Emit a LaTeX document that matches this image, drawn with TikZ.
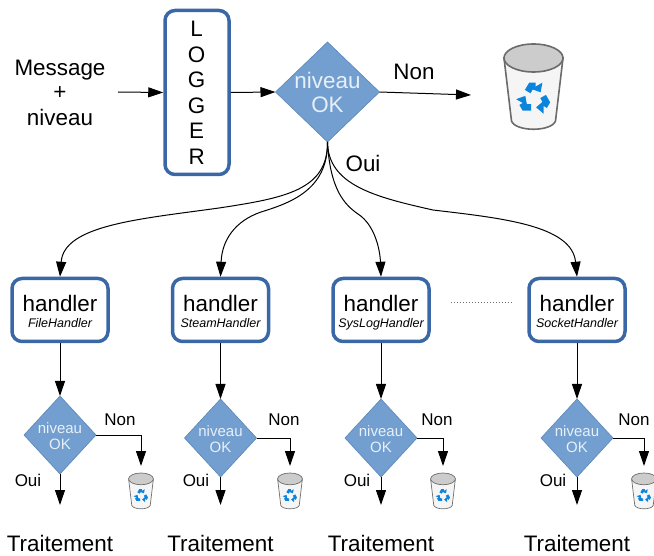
\documentclass[tikz,border=0pt]{standalone}
\usepackage{fontspec}
\setmainfont{Liberation Sans}
\usetikzlibrary{arrows.meta,shapes.geometric}
\definecolor{boxblue}{HTML}{3A68A6}
\definecolor{diafill}{HTML}{729FCF}
\definecolor{diaedge}{HTML}{5C87B8}
\definecolor{diatext}{HTML}{E8EFF8}
\definecolor{recy}{HTML}{0A84DC}
\tikzset{
  arw/.style={-{Triangle[length=15pt,width=10pt]},line width=1pt,black},
  bigbox/.style={draw=boxblue,line width=3.5pt,fill=white,rounded corners=10pt,inner sep=0pt},
  dia/.style={shape=diamond,draw=diaedge,line width=.6pt,fill=diafill,inner sep=0pt,outer sep=0pt},
  lab/.style={anchor=base,inner sep=0pt},
  big/.style={lab,font=\fontsize{22.4}{26}\selectfont},
  mid/.style={lab,font=\fontsize{17}{20}\selectfont},
  ital/.style={lab,font=\fontsize{12.5}{15}\selectfont\itshape},
  sdia/.style={lab,text=diatext,font=\fontsize{15}{18}\selectfont},
  bdia/.style={lab,text=diatext,font=\fontsize{22.4}{26}\selectfont},
}
% #1 x, #2 y of lid top, #3 scale
\newcommand{\trashbin}[3]{%
  \begin{scope}[shift={(#1,#2)},scale=#3]
    \path[fill=black!4,draw=black!58,line width=#3*1.6pt]
      (-29.5,14) -- (-22,77) .. controls (-18,88) and (18,88) .. (22,77) -- (29.5,14) -- cycle;
    \path[fill=black!20,draw=black!58,line width=#3*1.6pt]
      (0,14) ellipse [x radius=29.5,y radius=14];
    \foreach \r in {0,120,240}{
      \begin{scope}[shift={(0.5,54.5)},rotate=\r,scale=1.15]
        \draw[recy,line width=#3*6.5pt,line join=miter] (-5.5,-6) -- (-2.5,-11) -- (1.5,-11);
        \fill[recy] (7.26,-13.75) -- (-2.26,-8.25) -- (5.75,-5.4) -- cycle;
      \end{scope}
    }
  \end{scope}}
% #1 id, #2 box x, #3 diamond y, #4 bin x, #5 text, #6 Oui x, #7 Non x
\newcommand{\handlerstack}[7]{%
  \node[bigbox,minimum width=96pt,minimum height=63pt] (h#1) at (#2,310) {};
  \node[big] (ht#1) at (#2,311.4) {handler};
  \node[ital] (hs#1) at (#2,327.3) {#5};
  \node[dia,minimum width=72pt,minimum height=78pt] (d#1) at (#2,#3) {};
  \node[sdia] (dn#1) at (#2,#3-2) {niveau};
  \node[sdia] (dk#1) at (#2,#3+14.5) {OK};
  \trashbin{#4}{473}{0.42}
  \coordinate (b#1) at (#4,466);
  \coordinate (e#1) at (#2,505);
  \draw[arw] (h#1.south) -- (d#1.north);
  \draw[arw] (d#1.south) -- (e#1);
  \draw[arw] (d#1.east) -| (b#1);
  \node[mid] (oui#1) at (#6,486) {Oui};
  \node[mid] (non#1) at (#7,425) {Non};
  \node[big] (tr#1) at (#2,551.5) {Traitement};
}
\begin{document}
\begin{tikzpicture}[x=1pt,y=-1pt]
\useasboundingbox (0,0) rectangle (654,556);
\fill[white] (0,0) rectangle (654,556);
% top row
\node[big] (m1) at (60,76) {Message};
\node[big] (m2) at (60,99.5) {+};
\node[big] (m3) at (60,125.5) {niveau};
\coordinate (ms) at (118,92);
\node[bigbox,minimum width=64pt,minimum height=164pt] (log) at (197,92.5) {};
\node[big] (l1) at (196.7,37) {L};
\node[big] (l2) at (196.7,62.5) {O};
\node[big] (l3) at (196.7,88) {G};
\node[big] (l4) at (196.7,113.5) {G};
\node[big] (l5) at (196.7,138.8) {E};
\node[big] (l6) at (196.7,164.5) {R};
\node[dia,minimum width=104pt,minimum height=100pt] (dm) at (327.5,92) {};
\node[bdia] (dmn) at (327.5,88.5) {niveau};
\node[bdia] (dmk) at (327.5,112.7) {OK};
\coordinate (nt) at (471,95);
\draw[arw] (ms) -- (log.west);
\draw[arw] (log.east) -- (dm.west);
\draw[arw] (dm.east) -- (nt);
\node[big] (nonm) at (414,80) {Non};
\node[big] (ouim) at (363,172) {Oui};
\trashbin{533.5}{44}{1}
% handlers
\handlerstack{1}{60}{435}{141}{FileHandler}{28}{120}
\handlerstack{2}{220.5}{438}{290}{SteamHandler}{196}{284}
\handlerstack{3}{381}{438}{443}{SysLogHandler}{357}{437}
\handlerstack{4}{577}{438}{644}{SocketHandler}{553}{634}
\draw[arw] (dm.south) .. controls (328,190) and (285,198) .. (219,208) .. controls (140,219) and (64,225) .. (h1.north);
\draw[arw] (dm.south) .. controls (328,190) and (290,203) .. (261,212) .. controls (235,221) and (222,240) .. (h2.north);
\draw[arw] (dm.south) .. controls (330,190) and (345,205) .. (358,214) .. controls (375,225) and (380,250) .. (h3.north);
\draw[arw] (dm.south) .. controls (328,185) and (375,197) .. (433,210) .. controls (500,218) and (572,225) .. (h4.north);
\draw[black!55,line width=1pt,dotted] (h3.east |- 0,303) ++(20,0) -- (511,303);
\end{tikzpicture}
\end{document}
